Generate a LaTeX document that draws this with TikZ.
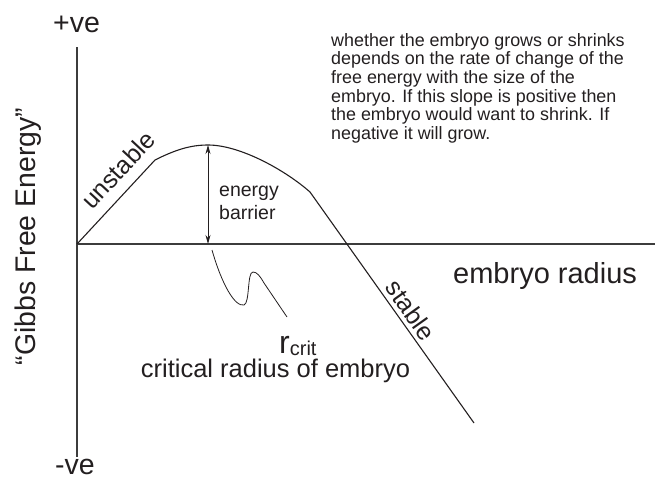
\documentclass[tikz,border=0pt]{standalone}
\usepackage{fontspec}
\setmainfont{Liberation Sans}
\usetikzlibrary{arrows.meta}
\definecolor{inkDark}{HTML}{231F20}
\definecolor{axisGray}{HTML}{3C3C3C}
\newcommand{\txtsize}[2]{\fontsize{#1}{#2}\selectfont}

\begin{document}
\begin{tikzpicture}[x=1pt, y=-1pt,
    axisline/.style={draw=axisGray, line width=1.2pt},
    curveline/.style={draw=inkDark, line width=1.1pt},
    thinline/.style={draw=inkDark, line width=0.8pt},
    lbl/.style={inner sep=0pt, text=inkDark},
    barrierarrow/.style={thinline, {Stealth[length=9pt,width=5pt]}-{Stealth[length=9pt,width=5pt]}}]
  \useasboundingbox (0,0) rectangle (655,479);

  % axes
  \coordinate (origin) at (77,244);
  \coordinate (ytop) at (77,47);
  \coordinate (ybot) at (77,457);
  \coordinate (xend) at (655,244);
  \draw[axisline] (ytop) -- (ybot);
  \draw[axisline] (origin) -- (xend);

  \node[lbl, anchor=base, font=\txtsize{28.5}{30}] (plusve) at (76.5,32) {+ve};
  \node[lbl, anchor=base, font=\txtsize{28.5}{30}] (minusve) at (75,474) {-ve};
  \node[lbl, anchor=base, rotate=90, font=\txtsize{28.4}{30}] (gibbs) at (35,236.5) {“Gibbs Free Energy”};
  \node[lbl, anchor=base west, font=\txtsize{29}{30}] (radius) at (453,283) {embryo radius};

  % free energy curve
  \coordinate (bend) at (155,160);
  \coordinate (peak) at (208,145);
  \coordinate (knee) at (310,192);
  \coordinate (tail) at (474,423);
  \draw[curveline] (origin) -- (bend) .. controls (175,150) and (190,145) .. (peak)
    .. controls (240,145) and (285,170) .. (knee) -- (tail);

  \node[lbl, rotate=47, font=\txtsize{25}{26}] (unstable) at (118,170) {unstable};
  \node[lbl, rotate=-54.6, font=\txtsize{25}{26}] (stable) at (411,310) {stable};

  % energy barrier
  \coordinate (peakfoot) at (208,244);
  \draw[barrierarrow] (peak) -- (peakfoot);
  \node[lbl, anchor=base west, align=left, font=\txtsize{19.5}{23}] (barrier) at (219,219) {energy\\barrier};

  % critical radius pointer
  \coordinate (sqstart) at (212,250);
  \coordinate (sqend) at (287,317);
  \draw[thinline] (sqstart) .. controls (222,285) and (235,307) .. (244,305)
    .. controls (250,303) and (247,272) .. (253,272)
    .. controls (257,272) and (260,276) .. (264,283) -- (sqend);

  \node[lbl, anchor=base west] (rcrit) at (279,353)
    {{\txtsize{32}{32}r}{\txtsize{20}{20}\raisebox{-2pt}{crit}}};
  \node[lbl, anchor=base, font=\txtsize{25.5}{27}] (critical) at (275.5,377) {critical radius of embryo};

  % note
  \node[lbl, anchor=base west, align=left, font=\txtsize{17.9}{18.7}] (note) at (331,139.5)
    {whether the embryo grows or shrinks\\
     depends on the rate of change of the\\
     free energy with the size of the\\
     embryo. If this slope is positive then\\
     the embryo would want to shrink. If\\
     negative it will grow.};
\end{tikzpicture}
\end{document}
